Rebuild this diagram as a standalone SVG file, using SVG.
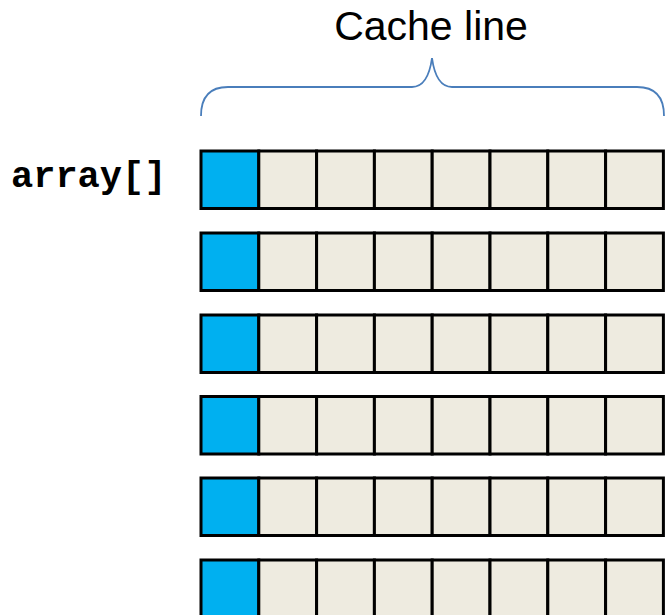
<svg xmlns="http://www.w3.org/2000/svg" width="665" height="615" viewBox="0 0 665 615">
  <defs>
    <style>
      .cell { fill: #EEEBE0; stroke: #000; stroke-width: 3; }
      .first { fill: #00B0F0; stroke: #000; stroke-width: 3; }
      .brace { fill: none; stroke: #4A7EBB; stroke-width: 1.8; }
      .title { font-family: "Liberation Sans", Arial, sans-serif; font-size: 41px; fill: #000; }
      .label { font-family: "Liberation Mono", "Courier New", monospace; font-weight: bold; font-size: 37px; fill: #000; }
    </style>
    <!-- one row of eight array elements -->
    <g id="row">
      <rect class="first" x="201" y="0" width="57.8" height="57.5"/>
      <rect class="cell" x="258.8" y="0" width="57.8" height="57.5"/>
      <rect class="cell" x="316.6" y="0" width="57.8" height="57.5"/>
      <rect class="cell" x="374.4" y="0" width="57.8" height="57.5"/>
      <rect class="cell" x="432.2" y="0" width="57.8" height="57.5"/>
      <rect class="cell" x="490" y="0" width="57.8" height="57.5"/>
      <rect class="cell" x="547.8" y="0" width="57.8" height="57.5"/>
      <rect class="cell" x="605.6" y="0" width="57.8" height="57.5"/>
    </g>
  </defs>

  <g id="cache-line-label">
    <text class="title" x="431" y="40" text-anchor="middle">Cache line</text>
  </g>

  <g id="brace">
    <path class="brace" d="M201,116 Q201,87 228,87 L412,87 Q428,87 432,58 Q436,87 452,87 L637,87 Q664,87 664,116"/>
  </g>

  <g id="array-label">
    <text class="label" x="11" y="187">array[]</text>
  </g>

  <g id="rows">
    <use id="row1" href="#row" y="151"/>
    <use id="row2" href="#row" y="233"/>
    <use id="row3" href="#row" y="315"/>
    <use id="row4" href="#row" y="396.5"/>
    <use id="row5" href="#row" y="478"/>
    <use id="row6" href="#row" y="560"/>
  </g>
</svg>
